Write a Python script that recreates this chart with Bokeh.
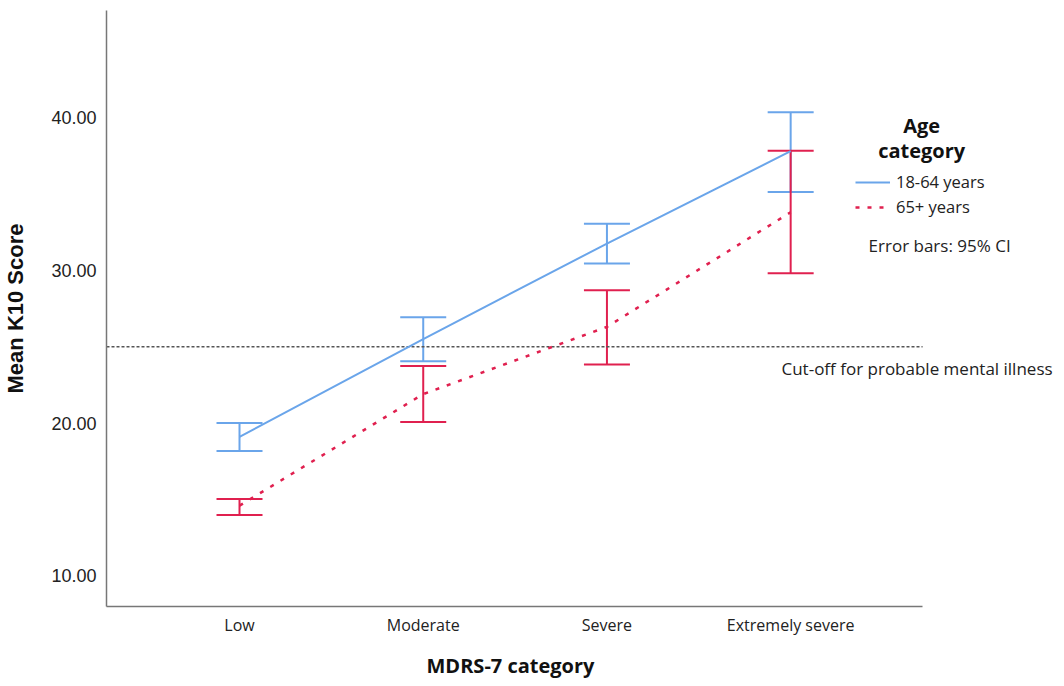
from bokeh.plotting import figure
from bokeh.models import (Range1d, FixedTicker, Whisker, TeeHead, ColumnDataSource,
                          Label, Legend, LegendItem, Title)
from bokeh.embed import file_html
from bokeh.resources import INLINE

categories = ["Low", "Moderate", "Severe", "Extremely severe"]
y_ticks = [10, 20, 30, 40]
y_tick_labels = ["10.00", "20.00", "30.00", "40.00"]

young_mean = [19.1, 25.5, 31.75, 37.8]
young_lower = [18.17, 24.05, 30.44, 35.12]
young_upper = [20.0, 26.93, 33.05, 40.35]

old_mean = [14.6, 21.9, 26.3, 33.8]
old_lower = [13.99, 20.07, 23.84, 29.8]
old_upper = [15.03, 23.73, 28.69, 37.82]

cutoff = 25.0

BLUE = "#6aa5ea"
RED = "#e0204f"
CAL = "Open Sans"
ARI = "Liberation Sans"

X0, X1 = -0.724, 3.718  # extent of the category axis

xs = list(range(len(categories)))

p = figure(width=1048, height=678, output_backend="svg", toolbar_location=None,
           x_range=Range1d(X0, 4.447), y_range=Range1d(8.0, 47.0),
           min_border_left=98, min_border_right=0, min_border_top=10, min_border_bottom=72,
           background_fill_color="white", border_fill_color="white")
p.frame_width = 950
p.frame_height = 596
p.outline_line_color = None
p.grid.visible = False

p.xaxis.ticker = FixedTicker(ticks=xs)
p.xaxis.major_label_overrides = {i: c for i, c in enumerate(categories)}
p.xaxis.bounds = (X0, X1)
p.yaxis.ticker = FixedTicker(ticks=y_ticks)
p.yaxis.major_label_overrides = {t: l for t, l in zip(y_ticks, y_tick_labels)}
for ax in (p.xaxis, p.yaxis):
    ax.major_tick_line_color = None
    ax.minor_tick_line_color = None
    ax.axis_line_color = "#777777"
    ax.axis_line_width = 1.5
    ax.major_label_text_color = "#222222"
    ax.axis_label_text_color = "#111111"
    ax.axis_label_text_font_style = "bold"

p.xaxis.major_label_text_font = CAL
p.xaxis.major_label_text_font_size = "16px"
p.xaxis.major_label_standoff = 1

# x-axis title, aligned under the category axis (not the whole frame)
xtitle = Title(text="MDRS-7 category", align="left", offset=320, standoff=23,
               text_font=CAL, text_font_size="20px", text_font_style="bold",
               text_color="#111111")
p.add_layout(xtitle, "below")

p.yaxis.major_label_text_font = ARI
p.yaxis.major_label_text_font_size = "18px"
p.yaxis.major_label_standoff = 4
p.yaxis.axis_label = "Mean K10 Score"
p.yaxis.axis_label_text_font = ARI
p.yaxis.axis_label_text_font_size = "22px"
p.yaxis.axis_label_standoff = 20

# cut-off line
p.segment(x0=[X0], x1=[X1], y0=[cutoff], y1=[cutoff], line_color="#555555",
          line_dash="3 2", line_width=1.5)

# error bars
ysrc = ColumnDataSource(dict(x=xs, lo=young_lower, hi=young_upper, m=young_mean))
osrc = ColumnDataSource(dict(x=xs, lo=old_lower, hi=old_upper, m=old_mean))
for src, col in ((ysrc, BLUE), (osrc, RED)):
    w = Whisker(source=src, base="x", lower="lo", upper="hi", dimension="height",
                line_color=col, line_width=2,
                upper_head=TeeHead(size=46, line_color=col, line_width=2),
                lower_head=TeeHead(size=46, line_color=col, line_width=2))
    p.add_layout(w)

r_young = p.line("x", "m", source=ysrc, line_color=BLUE, line_width=2)
r_old = p.line("x", "m", source=osrc, line_color=RED, line_width=2.5, line_dash="4 8")

legend = Legend(items=[LegendItem(label="18-64 years", renderers=[r_young]),
                       LegendItem(label="65+ years", renderers=[r_old])],
                location=(749, 388), padding=0, margin=0, spacing=2,
                glyph_width=35, glyph_height=22, label_height=22, label_standoff=6,
                label_text_font=CAL, label_text_font_size="16.5px", label_text_color="#222222",
                border_line_color=None, background_fill_alpha=0)
p.add_layout(legend, "center")

p.add_layout(Label(x=3.713, y=39.48, text="Age", text_font=CAL, text_font_style="bold",
                   text_font_size="20px", text_align="center", text_baseline="middle",
                   text_color="#111111"))
p.add_layout(Label(x=3.713, y=37.84, text="category", text_font=CAL, text_font_style="bold",
                   text_font_size="20px", text_align="center", text_baseline="middle",
                   text_color="#111111"))
p.add_layout(Label(x=3.424, y=31.63, text="Error bars: 95% CI", text_font=CAL,
                   text_font_size="17px", text_align="left", text_baseline="middle",
                   text_color="#222222"))
p.add_layout(Label(x=2.95, y=23.6, text="Cut-off for probable mental illness", text_font=CAL,
                   text_font_size="17px", text_align="left", text_baseline="middle",
                   text_color="#222222"))

open("out.html", "w").write(file_html(p, INLINE))
